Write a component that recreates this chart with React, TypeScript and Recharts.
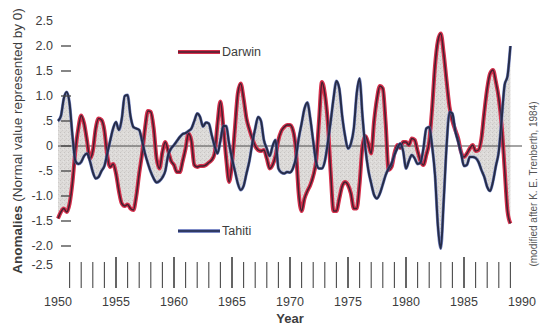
import { Area, ComposedChart, Line, ReferenceLine, XAxis, YAxis } from 'recharts'

// Pressure anomalies, quarterly samples from 1950.00 to 1989.00
const startYear = 1950
const samplesPerYear = 4

const darwin = [
  -1.45, -1.32, -1.25, -1.32, // 1950
  -1.15, -0.72, -0.09, 0.35,
  0.61, 0.45, 0.11, -0.25,
  -0.1, 0.35, 0.55, 0.52,
  0.31, -0.2, -0.42, -0.36,
  -0.55, -0.9, -1.15, -1.2, // 1955
  -1.17, -1.25, -1.28, -1.0,
  -0.55, -0.15, 0.35, 0.7,
  0.68, 0.35, -0.25, -0.45,
  -0.12, 0.08, -0.1, -0.3,
  -0.38, -0.52, -0.52, -0.3, // 1960
  -0.05, 0.25, 0.1, -0.38,
  -0.42, -0.4, -0.4, -0.38,
  -0.33, -0.28, -0.15, 0.45,
  0.89, 0.39, -0.25, -0.72,
  -0.35, 0.35, 1.05, 1.25, // 1965
  0.95, 0.55, 0.33, 0.15,
  0.0, -0.08, -0.1, -0.08,
  -0.25, -0.45, -0.38, -0.2,
  0.12, 0.3, 0.38, 0.42,
  0.42, 0.32, -0.05, -0.95, // 1970
  -1.3, -1.05, -0.9, -0.78,
  -0.6, -0.3, 0.5, 1.28,
  1.05, 0.5, -0.5, -1.3,
  -1.3, -1.05, -0.8, -0.72,
  -0.78, -0.95, -1.25, -1.25, // 1975
  -0.75, 0.0, 0.2, 0.05,
  -0.15, 0.5, 0.95, 1.2,
  1.15, 0.45, -0.48, -0.42,
  -0.15, 0.02, -0.04, 0.08,
  0.08, 0.02, 0.15, 0.12, // 1980
  -0.1, -0.3, -0.38, -0.18,
  0.08, 0.75, 1.6, 2.1,
  2.25, 1.85, 1.3, 0.78,
  0.5, 0.32, 0.15, -0.12,
  -0.22, -0.15, -0.05, 0.02, // 1985
  -0.1, -0.08, 0.15, 0.68,
  1.15, 1.45, 1.52, 1.28,
  0.95, 0.4, -0.45, -1.3,
  -1.55, // 1989
]

const tahiti = [
  0.5, 0.6, 0.95, 1.08, // 1950
  0.85, 0.2, -0.3, -0.36,
  -0.32, -0.2, -0.15, -0.3,
  -0.52, -0.65, -0.62, -0.5,
  -0.4, -0.15, 0.11, 0.35,
  0.48, 0.32, 0.55, 1.0, // 1955
  1.02, 0.6, 0.38, 0.35,
  0.32, 0.1, -0.15, -0.35,
  -0.52, -0.65, -0.73, -0.7,
  -0.63, -0.5, -0.18, -0.05,
  0.02, 0.1, 0.18, 0.24, // 1960
  0.26, 0.3, 0.35, 0.5,
  0.65, 0.58, 0.39, 0.47,
  0.45, 0.22, 0.0, -0.15,
  0.1, 0.4, 0.4, 0.05,
  -0.25, -0.5, -0.75, -0.88, // 1965
  -0.8, -0.55, -0.3, 0.05,
  0.35, 0.58, 0.5, 0.12,
  -0.05, -0.2, 0.0, 0.12,
  -0.45, -0.53, -0.55, -0.52,
  -0.53, -0.45, -0.25, 0.15, // 1970
  0.45, 0.75, 0.87, 0.55,
  0.1, -0.32, -0.45, -0.45,
  -0.31, 0.05, 0.48, 0.95,
  1.3, 1.15, 0.6, 0.2,
  -0.05, 0.05, 0.35, 1.05, // 1975
  1.35, 0.6, -0.05, -0.48,
  -0.75, -0.98, -1.05, -0.95,
  -0.77, -0.58, -0.45, -0.35,
  -0.18, -0.05, 0.05, -0.1,
  -0.45, -0.3, -0.18, -0.25, // 1980
  -0.36, -0.33, -0.05, 0.35,
  0.38, 0.0, -0.58, -1.6,
  -2.05, -1.1, 0.0, 0.68,
  0.65, 0.3, 0.08, -0.15,
  -0.4, -0.38, -0.22, -0.22, // 1985
  -0.24, -0.32, -0.48, -0.62,
  -0.82, -0.9, -0.71, -0.4,
  -0.11, 0.55, 1.22, 1.4,
  2.0, // 1989
]

const yTicks = [2.5, 2, 1.5, 1, 0.5, 0, -0.5, -1, -1.5, -2, -2.5]
const yTickLabels = ['2.5', '2.0', '1.5', '1.0', '.5', '0', '-.5', '-1.0', '-1.5', '-2.0', '-2.5']
const yearLabels = [1950, 1955, 1960, 1965, 1970, 1975, 1980, 1985, 1990]
const yearTicks = Array.from({ length: 41 }, (_, i) => 1950 + i)

const FONT = "'Liberation Sans Narrow', 'Arial Narrow', 'Liberation Sans', Arial, sans-serif"
const INK = '#3d3d3d'
const DARWIN_RED = '#d62f4c'
const DARWIN_CORE = '#44202f'
const TAHITI_BLUE = '#5466b4'
const TAHITI_CORE = '#252c48'

const rows = darwin.map((d, i) => ({
  year: startYear + i / samplesPerYear,
  darwin: d,
  tahiti: tahiti[i],
  band: [d, tahiti[i]],
}))

function YearTick(props: any) {
  const { x, payload } = props
  const yr = payload.value as number
  const major = yr % 5 === 0
  return (
    <g>
      {yr > 1950 && yr < 1990 && (
        <line
          x1={x}
          x2={x}
          y1={major ? 257 : 262}
          y2={288}
          stroke="#4a4a4a"
          strokeWidth={major ? 1.7 : 1.1}
        />
      )}
      {yearLabels.includes(yr) && (
        <text x={x} y={306} textAnchor="middle" fontFamily={FONT} fontSize={12.5} fill={INK}>
          {yr}
        </text>
      )}
    </g>
  )
}

function AnomalyTick(props: any) {
  const { y, payload } = props
  const v = payload.value as number
  const label = yTickLabels[yTicks.indexOf(v)]
  // the bottom label sits a little higher, above the year ruler
  const ty = v === -2.5 ? y - 6 : y
  return (
    <g>
      <text x={53} y={ty + 4} textAnchor="end" fontFamily={FONT} fontSize={12.5} fill={INK}>
        {label}
      </text>
      {Math.abs(v) < 2.5 && <line x1={61} x2={71} y1={y} y2={y} stroke="#444" strokeWidth={1.3} />}
    </g>
  )
}

export default function App() {
  return (
    <div style={{ position: 'absolute', left: 0, top: 0, background: '#fff' }}>
      <ComposedChart
        width={546}
        height={327}
        data={rows}
        margin={{ top: 21, right: 24, bottom: 26, left: 8 }}
      >
        <defs>
          <pattern id="stipple" width="4" height="4" patternUnits="userSpaceOnUse">
            <rect width="4" height="4" fill="#c7c3c0" />
            <rect x="0" y="0" width="1" height="1" fill="#a29d99" />
            <rect x="2" y="2" width="1" height="1" fill="#aea9a5" />
            <rect x="3" y="1" width="1" height="1" fill="#d6d3d0" />
            <rect x="1" y="3" width="1" height="1" fill="#b7b2ae" />
          </pattern>
        </defs>
        <XAxis
          dataKey="year"
          type="number"
          domain={[1950, 1990]}
          ticks={yearTicks}
          interval={0}
          axisLine={false}
          tickLine={false}
          height={30}
          tick={<YearTick />}
        />
        <YAxis
          type="number"
          domain={[-2.5, 2.5]}
          ticks={yTicks}
          interval={0}
          axisLine={false}
          tickLine={false}
          width={50}
          tick={<AnomalyTick />}
        />
        <Area
          dataKey="band"
          type="monotone"
          fill="url(#stipple)"
          stroke="none"
          isAnimationActive={false}
        />
        <ReferenceLine y={0} stroke="#4a4a4a" strokeWidth={1.1} />
        <Line dataKey="darwin" type="monotone" stroke={DARWIN_RED} strokeWidth={4} dot={false} activeDot={false} isAnimationActive={false} />
        <Line dataKey="darwin" type="monotone" stroke={DARWIN_CORE} strokeWidth={1.5} dot={false} activeDot={false} isAnimationActive={false} />
        <Line dataKey="tahiti" type="monotone" stroke={TAHITI_BLUE} strokeWidth={3} strokeOpacity={0.8} dot={false} activeDot={false} isAnimationActive={false} />
        <Line dataKey="tahiti" type="monotone" stroke={TAHITI_CORE} strokeWidth={2} dot={false} activeDot={false} isAnimationActive={false} />

        {/* legend keys */}
        <line x1={178} x2={220} y1={52} y2={52} stroke={DARWIN_RED} strokeWidth={3.8} />
        <line x1={178} x2={220} y1={52} y2={52} stroke={DARWIN_CORE} strokeWidth={1.3} />
        <text x={222} y={56} fontFamily={FONT} fontSize={12.5} fill={INK}>Darwin</text>
        <line x1={178} x2={220} y1={231} y2={231} stroke={TAHITI_BLUE} strokeWidth={3.6} />
        <line x1={178} x2={220} y1={231} y2={231} stroke={TAHITI_CORE} strokeWidth={1.5} />
        <text x={222} y={235} fontFamily={FONT} fontSize={12.5} fill={INK}>Tahiti</text>

        {/* axis titles and source note */}
        <text
          x={0}
          y={0}
          transform="translate(22 141) rotate(-90)"
          textAnchor="middle"
          fontFamily={FONT}
          fontSize={13.5}
          fill={INK}
        >
          <tspan fontWeight="bold">Anomalies</tspan>
          <tspan> (Normal value represented by 0)</tspan>
        </text>
        <text x={290} y={323} textAnchor="middle" fontFamily={FONT} fontSize={13} fontWeight="bold" fill={INK}>
          Year
        </text>
        <text
          x={0}
          y={0}
          transform="translate(537 184) rotate(-90)"
          textAnchor="middle"
          fontFamily={FONT}
          fontSize={10}
          fill="#555"
        >
          (modified after K. E. Trenberth, 1984)
        </text>
      </ComposedChart>
    </div>
  )
}
